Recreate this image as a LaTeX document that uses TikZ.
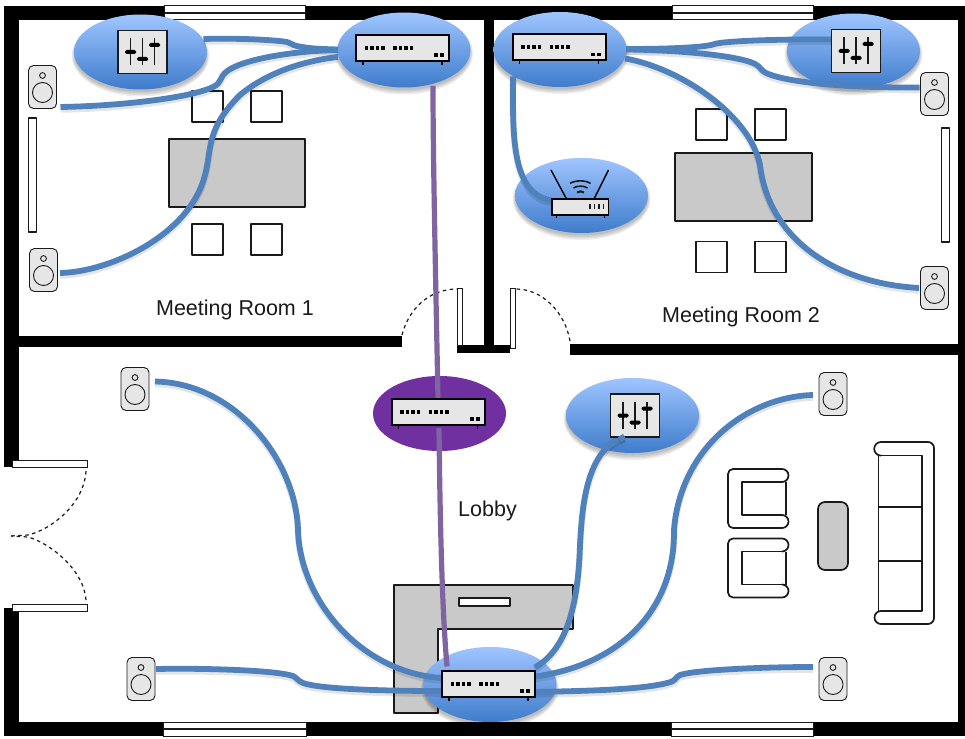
\documentclass[tikz,border=0pt]{standalone}
\usepackage{fontspec}
\setmainfont{Liberation Sans}
\usetikzlibrary{shapes.geometric}
\definecolor{wireblue}{HTML}{4F81BD}
\definecolor{wirepurple}{HTML}{8064A2}
\definecolor{devtop}{HTML}{9FC5FF}
\definecolor{devbot}{HTML}{3F7CCB}
\definecolor{devpurple}{HTML}{7030A0}
\definecolor{iconfill}{HTML}{E6E6E6}
\definecolor{tablefill}{HTML}{C9C9C9}
\definecolor{ink}{HTML}{1A1A1A}
\tikzset{
  device/.style={ellipse,draw=none,inner sep=0pt,minimum width=133pt,minimum height=75pt,top color=devtop,bottom color=devbot},
  devicepurple/.style={ellipse,draw=none,inner sep=0pt,minimum width=133pt,minimum height=75pt,fill=devpurple},
  speakerbox/.style={rectangle,rounded corners=5pt,draw=ink,line width=.9pt,fill=iconfill,inner sep=0pt,minimum width=28pt,minimum height=43pt},
  wire/.style={draw=wireblue,line width=5.8pt,
    preaction={draw=black,draw opacity=.10,line width=6.5pt,transform canvas={yshift=-2.5pt}}},
  pwire/.style={draw=wirepurple,line width=5.2pt},
  furn/.style={draw=ink,line width=1.7pt,line join=round},
  winbox/.style={draw=ink,line width=1pt,fill=white},
  swing/.style={draw=ink,line width=1.2pt,dash pattern=on 3.5pt off 3.5pt},
  label/.style={inner sep=0pt,text=ink,font=\fontsize{21.5}{25}\selectfont}
}
\newcommand{\softshadow}[2]{%
  \foreach \rr in {4,2.5,1,-0.5}{\fill[black,opacity=.07] (#1,#2+3.5) ellipse (66.5+\rr*.6 and 37+\rr);}}
\newcommand{\swicon}[2]{%
  \begin{scope}[shift={(#1,#2)}]
    \draw[black,line width=1.2pt] (-39.5,13) -- (-39.5,17) (39.5,13) -- (39.5,17);
    \draw[black,line width=2pt,fill=iconfill] (-46.5,-13) rectangle (46.5,13);
    \foreach \dx in {-36,-30.5,-25,-19.5,-7.5,-2,3.5,9}{\fill[black] (\dx-1.9,-2) rectangle (\dx+1.9,2);}
    \foreach \dx in {33.5,39.5}{\fill[black] (\dx-2,5.2) rectangle (\dx+2,9);}
  \end{scope}}
\newcommand{\mixicon}[2]{%
  \begin{scope}[shift={(#1,#2)}]
    \draw[ink,line width=1.4pt,fill=iconfill] (-24.5,-21.5) rectangle (24.5,21.5);
    \draw[ink,line width=1.2pt] (-12,-14) -- (-12,13) (0,-14) -- (0,13) (12,-14) -- (12,13);
    \fill[black,rounded corners=1.5pt] (-17.5,-2) rectangle (-6.5,2);
    \fill[black,rounded corners=1.5pt] (-5.5,5) rectangle (5.5,9);
    \fill[black,rounded corners=1.5pt] (6.5,-9) rectangle (17.5,-5);
  \end{scope}}
\newcommand{\spkicon}[2]{%
  \draw[ink,line width=.9pt] (#1,#2-11.5) circle (2.9);
  \draw[ink,line width=.9pt] (#1,#2+5.5) circle (10);}
\begin{document}
\begin{tikzpicture}[x=1pt,y=-1pt]
\useasboundingbox (0,0) rectangle (965,738);
\fill[white] (0,0) rectangle (965,738);
% walls
\fill[black] (4,6) rectangle (965,20);
\fill[black] (4,6) rectangle (19,467);
\fill[black] (4,608) rectangle (19,736);
\fill[black] (4,722) rectangle (965,736);
\fill[black] (958,6) rectangle (965,736);
\fill[black] (4,336) rectangle (402,347);
\fill[black] (483.5,20) rectangle (494,350);
\fill[black] (457,344.5) rectangle (510,353);
\fill[black] (570,343.5) rectangle (965,355);
% windows
\foreach \xa/\xb/\ya in {164/305/6,672/813/6,163/306/722,671/813/722}{
  \draw[winbox] (\xa,\ya) rectangle (\xb,\ya+14);
  \draw[ink,line width=1.1pt] (\xa,\ya+7) -- (\xb,\ya+7);}
% door leaves and swings
\draw[winbox] (457.5,288.5) rectangle (462,345);
\draw[winbox] (510.5,288.5) rectangle (515.5,348);
\draw[winbox] (12,460.5) rectangle (87,467);
\draw[winbox] (12,604.5) rectangle (87,611);
\draw[swing] (402,335) .. controls (409,308) and (430,289) .. (457,289);
\draw[swing] (570,341) .. controls (565,312) and (542,289) .. (516,289);
\draw[swing] (86,471) .. controls (84,505) and (50,530) .. (28,535) -- (11,536);
\draw[swing] (86,600) .. controls (84,570) and (50,543) .. (28,537) -- (11,536);
% room 1 furniture
\foreach \xa/\ya in {192/91,251/91,192/224,251/224}{\draw[furn,fill=white] (\xa,\ya) rectangle (\xa+31,\ya+31);}
\draw[furn,fill=tablefill] (169,139) rectangle (305,207);
\draw[furn,fill=white] (28.5,118) rectangle (36.5,232);
% room 2 furniture
\foreach \xa/\ya in {696/109,755/109,696/241.5,755/241.5}{\draw[furn,fill=white] (\xa,\ya) rectangle (\xa+31,\ya+31);}
\draw[furn,fill=tablefill] (675,153) rectangle (812,221);
\draw[furn,fill=white] (941.5,128) rectangle (949.5,242);
% desk
\draw[furn,fill=tablefill] (394,585) -- (573,585) -- (573,629) -- (438,629) -- (438,713) -- (394,713) -- cycle;
\draw[furn,line width=1.4pt,fill=white] (459,598) rectangle (510,606);
% armchairs
\foreach \ya in {469,538.5}{
  \draw[furn,rounded corners=5pt] (782,\ya) -- (728,\ya) -- (728,\ya+59) -- (782,\ya+59);
  \draw[furn] (782,\ya) arc (-90:90:6.5);
  \draw[furn] (782,\ya+59) arc (90:-90:6.5);
  \draw[furn] (782,\ya+13) -- (742,\ya+13) -- (742,\ya+46) -- (782,\ya+46);
  \draw[furn] (786,\ya+13) -- (786,\ya+46);}
% ottoman
\draw[furn,fill=tablefill,rounded corners=7pt] (818,502) rectangle (848,570);
% sofa
\draw[furn,rounded corners=6pt] (881,442) -- (934,442) -- (934,624) -- (881,624);
\draw[furn] (881,442) arc (270:90:6.8);
\draw[furn] (881,624) arc (90:270:6.5);
\draw[furn] (881,455.6) -- (922,455.6) -- (922,611) -- (881,611);
\draw[furn] (878.5,455.6) -- (878.5,611);
\draw[furn] (878.5,507) -- (922,507) (878.5,561) -- (922,561);
% device ellipses
\softshadow{140.5}{52}\softshadow{404}{50}\softshadow{560}{49.5}\softshadow{853.5}{51}
\softshadow{581.5}{195.5}\softshadow{632.5}{415.5}\softshadow{490}{684.5}
\node[device] (mix1) at (140.5,52) {};
\node[device] (sw1) at (404,50) {};
\node[device] (sw2) at (560,49.5) {};
\node[device] (mix2) at (853.5,51) {};
\node[device] (rt) at (581.5,195.5) {};
\node[devicepurple] (hub) at (439.5,413.5) {};
\node[device] (mix3) at (632.5,415.5) {};
\node[device] (sw3) at (490,684.5) {};
% speakers
\node[speakerbox] (spk1) at (42.5,87) {};
\node[speakerbox] (spk2) at (43.5,270) {};
\node[speakerbox] (spk3) at (934.5,94) {};
\node[speakerbox] (spk4) at (934.5,288) {};
\node[speakerbox] (spk5) at (135,389) {};
\node[speakerbox] (spk6) at (141,679) {};
\node[speakerbox] (spk7) at (833,394) {};
\node[speakerbox] (spk8) at (833,679) {};
\spkicon{42.5}{87}\spkicon{43.5}{270}\spkicon{934.5}{94}\spkicon{934.5}{288}
\spkicon{135}{389}\spkicon{141}{679}\spkicon{833}{394}\spkicon{833}{679}
% connectors, room 1
\draw[wire] ([shift={(63,-13)}]mix1.center) .. controls (240,38) and (275,40) .. (287,42) .. controls (291,43) and (292,45) .. (297,46) .. controls (310,49) and (325,49) .. ([shift={(-66,-0.5)}]sw1.center);
\draw[wire] ([shift={(18,20)}]spk1.center) .. controls (120,106) and (190,98) .. (213,87) .. controls (222,83) and (220,76) .. (226,72) .. controls (240,60) and (290,51) .. ([shift={(-66,0)}]sw1.center);
\draw[wire] ([shift={(16.5,3)}]spk2.center) .. controls (110,272) and (190,235) .. (205,175) .. controls (212,150) and (205,130) .. (240,95) .. controls (270,70) and (310,60) .. ([shift={(-66,7)}]sw1.center);
\draw[pwire] ([shift={(29,36)}]sw1.center) .. controls (433,150) and (435,250) .. ([shift={(-1.5,-15)}]hub.center);
% connectors, room 2
\draw[wire] ([shift={(66,-0.5)}]sw2.center) .. controls (660,49) and (700,48) .. (713,44.5) .. controls (720,41) and (780,39) .. ([shift={(-22.5,-11.5)}]mix2.center);
\draw[wire] ([shift={(66,0)}]sw2.center) .. controls (680,50) and (740,56) .. (755,64) .. controls (762,68) and (760,70) .. (766,73) .. controls (790,84) and (860,88) .. ([shift={(-15,-6.5)}]spk3.center);
\draw[wire] ([shift={(65,9)}]sw2.center) .. controls (680,68) and (750,115) .. (760,165) .. controls (768,235) and (830,283) .. ([shift={(-15.5,0)}]spk4.center);
\draw[wire] ([shift={(-47,27)}]sw2.center) .. controls (513,130) and (510,195) .. ([shift={(-29.5,5)}]rt.center);
% connectors, lobby
\draw[wire] ([shift={(20,-7.5)}]spk5.center) .. controls (235,383) and (296,460) .. (298,530) .. controls (300,600) and (360,672) .. ([shift={(-49,-6.5)}]sw3.center);
\draw[wire] ([shift={(15,-10)}]spk6.center) .. controls (200,668) and (275,670) .. (293,676) .. controls (297,678) and (298,681) .. (303,683) .. controls (320,689) and (380,691) .. ([shift={(-49,6.5)}]sw3.center);
\draw[wire] ([shift={(-8,21)}]mix3.center) .. controls (585,450) and (582,510) .. (580,545) .. controls (578,610) and (565,650) .. ([shift={(45,-17)}]sw3.center);
\draw[wire] ([shift={(-20,1)}]spk7.center) .. controls (745,397) and (680,450) .. (674,530) .. controls (675,610) and (620,665) .. ([shift={(45,-8)}]sw3.center);
\draw[wire] ([shift={(-20,-12)}]spk8.center) .. controls (760,667) and (695,670) .. (680,675) .. controls (675,677) and (677,681) .. (667,683) .. controls (640,690) and (580,691) .. ([shift={(45,7.5)}]sw3.center);
\draw[pwire] ([shift={(-0.5,14.5)}]hub.center) .. controls (440,520) and (442,610) .. ([shift={(-43,-18)}]sw3.center);
% icons
\swicon{402.5}{48}\swicon{559}{47.5}\swicon{438}{412}\swicon{488.5}{684}
\mixicon{142.5}{52}\mixicon{856}{51}\mixicon{635}{415.5}
% wire end that lies on top of an icon edge
\draw[wire] ([shift={(-8,21)}]mix3.center) -- ++(-5,3);
% router
\draw[black,line width=1.4pt] (551,170) -- (566.5,199) (608.5,170) -- (594,199);
\draw[black,line width=1pt] (556,215) -- (556,217.5) (604,215) -- (604,217.5);
\draw[black,line width=1.4pt,fill=iconfill] (552,199) rectangle (608.5,215);
\foreach \dx in {590,594.5,599,603.5}{\draw[ink,line width=1.5pt] (\dx,204) -- (\dx,209);}
\draw[ink,line width=1.6pt] (570,183.5) .. controls (575,180) and (586,180) .. (590.5,183.5);
\draw[ink,line width=1.6pt] (573.5,188) .. controls (577,185.5) and (584,185.5) .. (587.5,188);
\draw[ink,line width=2pt] (577,192.5) .. controls (579,191) and (582,191) .. (584,192.5);
% labels
\node[label] (lab1) at (235,310) {Meeting Room 1};
\node[label] (lab2) at (741,317) {Meeting Room 2};
\node[label] (lab3) at (487.5,511) {Lobby};
\end{tikzpicture}
\end{document}
